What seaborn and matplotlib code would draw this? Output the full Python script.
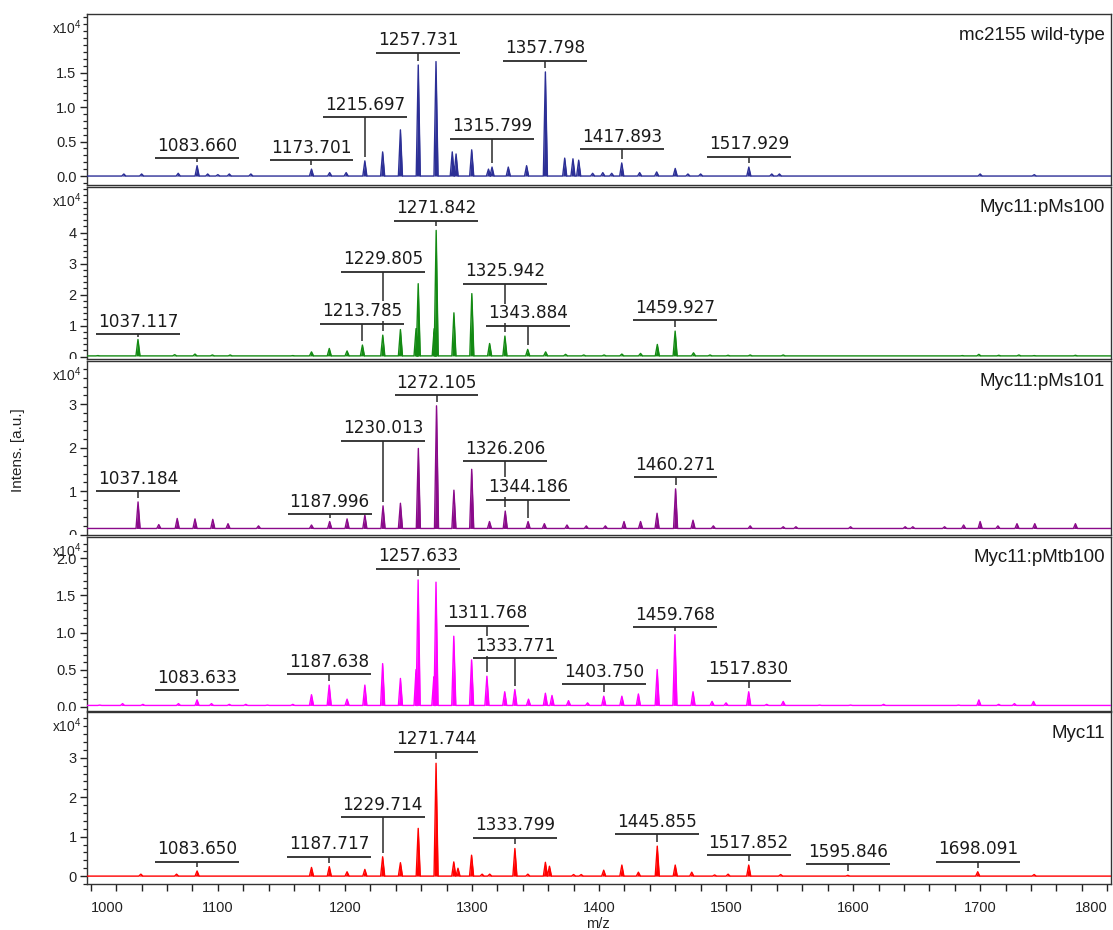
import numpy as np
import pandas as pd
import matplotlib
matplotlib.use("Agg")
import matplotlib.pyplot as plt
from matplotlib.transforms import Bbox, TransformedBbox
from matplotlib.ticker import FixedLocator, MultipleLocator
import seaborn as sns

sns.set_style("ticks")
plt.rcParams['font.family'] = ['Liberation Sans', 'DejaVu Sans']

# ---------------- data (intensities in units of 1e4) ----------------
panel_names = ["mc2155 wild-type", "Myc11:pMs100", "Myc11:pMs101", "Myc11:pMtb100", "Myc11"]

wt_mz = [1026, 1040, 1068.8, 1083.660, 1092, 1100, 1109, 1126, 1173.701, 1188, 1201, 1215.697,
         1229.7, 1243.7, 1257.731, 1271.7, 1284.5, 1287.5, 1299.8, 1313, 1315.799, 1328.6, 1343,
         1357.798, 1373, 1379.5, 1384, 1395, 1403, 1410, 1417.893, 1432, 1445.4, 1460, 1470, 1480,
         1517.929, 1536, 1542, 1700, 1742.6]
wt_int = [0.03, 0.03, 0.04, 0.15, 0.03, 0.02, 0.03, 0.03, 0.10, 0.05, 0.05, 0.22,
          0.35, 0.67, 1.61, 1.66, 0.35, 0.32, 0.38, 0.10, 0.13, 0.13, 0.15,
          1.51, 0.26, 0.25, 0.23, 0.04, 0.05, 0.04, 0.19, 0.05, 0.06, 0.11, 0.03, 0.03,
          0.13, 0.03, 0.03, 0.03, 0.02]
wt_labels = [1083.660, 1173.701, 1215.697, 1257.731, 1315.799, 1357.798, 1417.893, 1517.929]
wt_label_y = [0.26, 0.23, 0.85, 1.79, 0.54, 1.67, 0.39, 0.28]

ms100_mz = [1005.6, 1037.117, 1066, 1082, 1095.7, 1109.7, 1159, 1173.7, 1187.7, 1201.7, 1213.785,
            1229.805, 1243.7, 1256, 1257.7, 1270.3, 1271.842, 1285.8, 1299.9, 1313.9, 1325.942,
            1343.884, 1358, 1373.7, 1388, 1404, 1418, 1432.7, 1445.9, 1459.927, 1474.4, 1487.4,
            1501.6, 1519, 1545, 1686, 1699, 1714.7, 1730.5, 1742.6, 1775]
ms100_int = [0.03, 0.55, 0.06, 0.08, 0.05, 0.05, 0.03, 0.15, 0.26, 0.18, 0.37,
             0.69, 0.87, 0.90, 2.35, 0.90, 4.07, 1.41, 2.03, 0.42, 0.66,
             0.23, 0.15, 0.07, 0.05, 0.05, 0.08, 0.10, 0.39, 0.82, 0.12, 0.05,
             0.04, 0.05, 0.05, 0.03, 0.07, 0.04, 0.05, 0.03, 0.04]
ms100_labels = [1037.117, 1213.785, 1229.805, 1271.842, 1325.942, 1343.884, 1459.927]
ms100_label_y = [0.72, 1.06, 2.73, 4.38, 2.35, 0.99, 1.17]

ms101_mz = [1037.184, 1053.5, 1068, 1082, 1096, 1108, 1132, 1173.7, 1187.996, 1201.7, 1215.7,
            1230.013, 1243.7, 1257.8, 1272.105, 1285.8, 1299.8, 1313.8, 1326.206, 1344.186, 1357,
            1374.8, 1390, 1405, 1419.7, 1432.7, 1445.7, 1460.271, 1474, 1490, 1519, 1545, 1555,
            1598, 1641, 1647, 1672, 1687, 1700, 1714, 1729, 1743, 1775]
ms101_int = [0.75, 0.23, 0.37, 0.36, 0.35, 0.25, 0.20, 0.22, 0.30, 0.36, 0.45,
             0.66, 0.72, 1.98, 2.96, 1.02, 1.50, 0.30, 0.54, 0.30, 0.25,
             0.22, 0.20, 0.20, 0.30, 0.30, 0.49, 1.05, 0.33, 0.20, 0.20, 0.18, 0.18,
             0.18, 0.18, 0.18, 0.18, 0.22, 0.30, 0.20, 0.25, 0.25, 0.25]
ms101_labels = [1037.184, 1187.996, 1230.013, 1272.105, 1326.206, 1344.186, 1460.271]
ms101_label_y = [1.00, 0.47, 2.16, 3.20, 1.69, 0.80, 1.32]

mtb100_mz = [1007, 1025, 1041, 1069, 1083.633, 1095, 1109, 1122, 1139, 1159, 1173.7, 1187.638,
             1201.7, 1215.7, 1229.7, 1243.7, 1256, 1257.633, 1270, 1271.7, 1285.7, 1299.7,
             1311.768, 1325.8, 1333.771, 1344.5, 1357.8, 1363, 1376, 1391, 1403.750, 1418, 1431,
             1445.8, 1459.768, 1474, 1489, 1500, 1517.830, 1532, 1545, 1573.6, 1598, 1624, 1683,
             1699, 1714.6, 1727, 1742]
mtb100_int = [0.02, 0.04, 0.03, 0.04, 0.09, 0.04, 0.03, 0.03, 0.02, 0.03, 0.16, 0.29,
              0.10, 0.29, 0.58, 0.38, 0.50, 1.71, 0.40, 1.68, 0.95, 0.63,
              0.41, 0.20, 0.23, 0.10, 0.18, 0.15, 0.08, 0.05, 0.14, 0.14, 0.17,
              0.50, 0.97, 0.20, 0.07, 0.05, 0.20, 0.03, 0.07, 0.02, 0.02, 0.03, 0.02,
              0.09, 0.03, 0.04, 0.07]
mtb100_labels = [1083.633, 1187.638, 1257.633, 1311.768, 1333.771, 1403.750, 1459.768, 1517.830]
mtb100_label_y = [0.22, 0.44, 1.86, 1.09, 0.65, 0.30, 1.07, 0.34]

myc11_mz = [1039.4, 1067.5, 1083.650, 1173.7, 1187.717, 1201.7, 1215.7, 1229.714, 1243.7, 1257.7,
            1271.744, 1285.7, 1289, 1299.7, 1308, 1314, 1333.799, 1344, 1357.8, 1361, 1380, 1386,
            1403.7, 1418, 1431, 1445.855, 1460, 1473, 1491, 1501.6, 1517.852, 1543, 1595.846,
            1698.091, 1742.5]
myc11_int = [0.05, 0.05, 0.13, 0.22, 0.24, 0.11, 0.17, 0.49, 0.34, 1.21,
             2.86, 0.36, 0.20, 0.53, 0.05, 0.05, 0.70, 0.05, 0.35, 0.25, 0.04, 0.04,
             0.15, 0.28, 0.10, 0.76, 0.28, 0.10, 0.03, 0.05, 0.28, 0.04, 0.02,
             0.11, 0.04]
myc11_labels = [1083.650, 1187.717, 1229.714, 1271.744, 1333.799, 1445.855, 1517.852, 1595.846, 1698.091]
myc11_label_y = [0.36, 0.49, 1.49, 3.15, 0.97, 1.06, 0.53, 0.30, 0.36]

baselines = [0.0, 0.02, 0.14, 0.015, 0.0]

x_ticks = [1000, 1100, 1200, 1300, 1400, 1500, 1600, 1700, 1800]

# ---------------- layout / style ----------------
colors = ['#2c2f96', '#138a13', '#8a0a8a', '#ff00ff', '#ff0000']
y_limits = [(-0.13, 2.35), (-0.08, 5.47), (-0.01, 3.99), (-0.06, 2.29), (-0.20, 4.16)]
y_major = [[0, 0.5, 1.0, 1.5], [0, 1, 2, 3, 4], [0, 1, 2, 3], [0, 0.5, 1.0, 1.5, 2.0], [0, 1, 2, 3]]
y_minor = [0.1, 0.2, 0.2, 0.1, 0.2]
y_fmt = ["{:.1f}", "{:d}", "{:d}", "{:.1f}", "{:d}"]
panels_px = [(14, 185), (187, 359), (361, 535), (537, 711), (712, 884)]
W, H = 1113, 930
left_px, right_px = 87, 1111
xlim = (997, 1803)

peaks = [(wt_mz, wt_int, wt_labels, wt_label_y),
         (ms100_mz, ms100_int, ms100_labels, ms100_label_y),
         (ms101_mz, ms101_int, ms101_labels, ms101_label_y),
         (mtb100_mz, mtb100_int, mtb100_labels, mtb100_label_y),
         (myc11_mz, myc11_int, myc11_labels, myc11_label_y)]

fig = plt.figure(figsize=(W / 100, H / 100), dpi=100)
axes = []
half_w = 1.6      # half base width of a drawn peak, in m/z
bar_half = 33     # half width of label bar, in m/z

for i, (mz, inten, labs, laby) in enumerate(peaks):
    top, bot = panels_px[i]
    ax = fig.add_axes([left_px / W, 1 - bot / H, (right_px - left_px) / W, (bot - top) / H])
    axes.append(ax)
    base = baselines[i]
    xs, ys = [xlim[0]], [base]
    for m, h in sorted(zip(mz, inten)):
        xs += [m - half_w, m, m + half_w]
        ys += [base, h, base]
    xs.append(xlim[1]); ys.append(base)
    df = pd.DataFrame({"mz": xs, "intensity": ys})
    ax.fill_between(df["mz"], base, df["intensity"], color=colors[i], lw=0, zorder=2)
    sns.lineplot(data=df, x="mz", y="intensity", ax=ax, color=colors[i], lw=1.0,
                 sort=False, estimator=None, zorder=3)
    ax.set_xlim(*xlim)
    ax.set_ylim(*y_limits[i])
    ax.set_xlabel("")
    ax.set_ylabel("")

    unit_px = (bot - top) / (y_limits[i][1] - y_limits[i][0])
    gap = 4 / unit_px
    lookup = dict(zip(mz, inten))
    for m, by in zip(labs, laby):
        ph = lookup.get(m, base)
        y_end = min(ph + gap, by - 3 / unit_px)
        ax.vlines(m, y_end, by, color='#2a2a2a', lw=1.1, zorder=4)
        ax.hlines(by, m - bar_half, m + bar_half, color='#2a2a2a', lw=1.3, zorder=6)
        ax.annotate(f"{m:.3f}", (m, by), xytext=(0, 2.5), textcoords='offset points',
                    ha='center', va='bottom', fontsize=12.2, family='DejaVu Sans', color='#1a1a1a',
                    zorder=5, bbox=dict(boxstyle='square,pad=0.05', fc='white', ec='none'))

    ax.text(0.994, 1 - 21 / (bot - top), panel_names[i], transform=ax.transAxes,
            ha='right', va='center', fontsize=13.5, color='#1a1a1a')

    # y axis
    ax.yaxis.set_major_locator(FixedLocator(y_major[i]))
    ax.yaxis.set_minor_locator(MultipleLocator(y_minor[i]))
    ax.set_yticklabels([y_fmt[i].format(v if y_fmt[i] != "{:d}" else int(v)) for v in y_major[i]])
    ax.tick_params(axis='y', which='major', direction='out', length=5, width=1.0, pad=2.5,
                   labelsize=10.5, colors='#222222')
    ax.tick_params(axis='y', which='minor', direction='out', length=3.2, width=0.9, colors='#222222')
    fig.text((left_px - 5) / W, 1 - (top + 14) / H, r"$\mathregular{x10^4}$", ha='right',
             va='center', fontsize=10, color='#222222')

    for s in ax.spines.values():
        s.set_visible(True)
        s.set_linewidth(1.0)
        s.set_color('#333333')

    if i < 4:
        ax.tick_params(axis='x', which='both', bottom=False, labelbottom=False)
    else:
        ax.xaxis.set_major_locator(FixedLocator(x_ticks))
        ax.xaxis.set_minor_locator(MultipleLocator(20))
        ax.set_xticklabels([str(t) for t in x_ticks])
        ax.tick_params(axis='x', which='both', direction='out', length=5, width=1.0,
                       colors='#222222')
        ax.tick_params(axis='x', which='major', pad=7, labelsize=10.5)

fig.text(598 / W, 1 - 924 / H, "m/z", ha='center', va='center', fontsize=10.5, color='#222222')
fig.text(18 / W, 1 - 450 / H, "Intens. [a.u.]", rotation=90, ha='center', va='center',
         fontsize=11, color='#222222')

fig.canvas.draw()
# first / last x tick labels kept inside the figure
xl = axes[-1].get_xticklabels()
xl[0].set_horizontalalignment('left')
xl[-1].set_horizontalalignment('right')
# clip y tick labels to their own panel band
for i, ax in enumerate(axes):
    top, bot = panels_px[i]
    clip = TransformedBbox(Bbox.from_extents(0, 1 - bot / H, 1, 1 - top / H), fig.transFigure)
    for t in ax.yaxis.get_major_ticks():
        t.label1.set_clip_box(clip)
        t.label1.set_clip_on(True)

fig.savefig("out.png", dpi=100)
